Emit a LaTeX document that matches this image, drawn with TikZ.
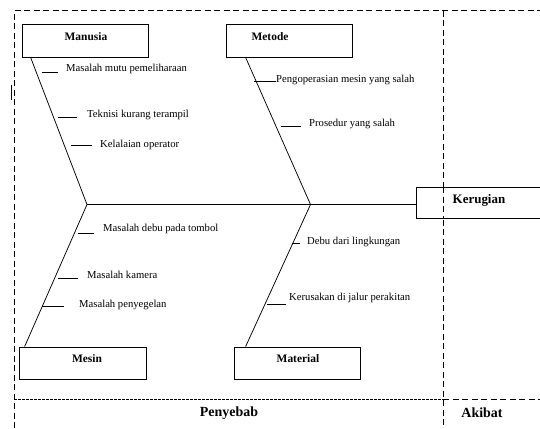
\documentclass[tikz,border=0pt]{standalone}
\usepackage{fontspec}
\setmainfont{Liberation Serif}
\begin{document}
\begin{tikzpicture}[x=1bp,y=-1bp,
 box/.style={draw, line width=0.8bp, minimum width=126bp, minimum height=33bp, inner sep=0},
 lbl/.style={font=\fontsize{11.5}{13}\selectfont\bfseries, inner sep=0},
 big/.style={font=\fontsize{14}{16}\selectfont\bfseries, inner sep=0},
 item/.style={font=\fontsize{10.7}{12}\selectfont, anchor=west, inner sep=0},
 bone/.style={line width=0.75bp},
 tick/.style={line width=0.75bp},
 frame/.style={dash pattern=on 6bp off 3.5bp, line width=0.8bp}]
\useasboundingbox (0,0) rectangle (540,428);
\fill[white] (0,0) rectangle (540,428);
% frame
\draw[frame] (14,428) -- (14,10.5) -- (540,10.5);
\draw[frame] (443,10.5) -- (443,428);
\draw[dash pattern=on 3bp off 1bp, line width=0.8bp] (14,399.5) -- (443,399.5);
\draw[frame] (443,399.5) -- (540,399.5);
\draw[line width=0.8bp] (11,85) -- (11,100);
% boxes
\node[box] (manusia) at (85,40.5) {};
\node[box] (metode) at (289,40.5) {};
\node[box, minimum width=127bp, minimum height=32bp] (mesin) at (82.5,363) {};
\node[box, minimum width=126bp, minimum height=32bp] (material) at (297,363) {};
\node[box, fill=white, minimum width=130bp, minimum height=31bp] (kerugian) at (481,202.5) {};
\draw[frame] (443,187) -- (443,218);
\node[lbl] (tmanusia) at (86,37) {Manusia};
\node[lbl] (tmetode) at (270,37) {Metode};
\node[lbl] (tmesin) at (87,359) {Mesin};
\node[lbl] (tmaterial) at (298,359) {Material};
\node[font=\fontsize{13}{15}\selectfont\bfseries, inner sep=0] (tkerugian) at (479,200) {Kerugian};
\node[big] (penyebab) at (229,413) {Penyebab};
\node[big] (akibat) at (482,413) {Akibat};
% spine and bones
\coordinate (j1) at (87,204.5);
\coordinate (j2) at (310.5,204.5);
\draw[bone] (j1) -- (j1 -| kerugian.west);
\draw[bone] ([xshift=9bp]manusia.south west) -- (j1) -- ([xshift=6bp]mesin.north west);
\draw[bone] ([xshift=20bp]metode.south west) -- (j2) -- ([xshift=12bp]material.north west);
% Manusia
\draw[tick] (42,72) -- (58,72);
\node[item] (m1) at (66,69) {Masalah mutu pemeliharaan};
\draw[tick] (58,117) -- (77,117);
\node[item] (m2) at (87,115) {Teknisi kurang terampil};
\draw[tick] (71,145) -- (92,145);
\node[item] (m3) at (100,145) {Kelalaian operator};
% Metode
\draw[tick] (254,81) -- (276,81);
\node[item] (d1) at (276,80) {Pengoperasian mesin yang salah};
\draw[tick] (281,126) -- (301,126);
\node[item] (d2) at (309,124) {Prosedur yang salah};
% Mesin
\draw[tick] (78,233) -- (94,233);
\node[item] (s1) at (103,229) {Masalah debu pada tombol};
\draw[tick] (58,278) -- (78,278);
\node[item] (s2) at (87,275) {Masalah kamera};
\draw[tick] (42,306) -- (64,306);
\node[item] (s3) at (79,305) {Masalah penyegelan};
% Material
\draw[tick] (292,243) -- (300,243);
\node[item] (a1) at (307,242) {Debu dari lingkungan};
\draw[tick] (267,304) -- (286,304);
\node[item] (a2) at (289,298) {Kerusakan di jalur perakitan};
\end{tikzpicture}
\end{document}
